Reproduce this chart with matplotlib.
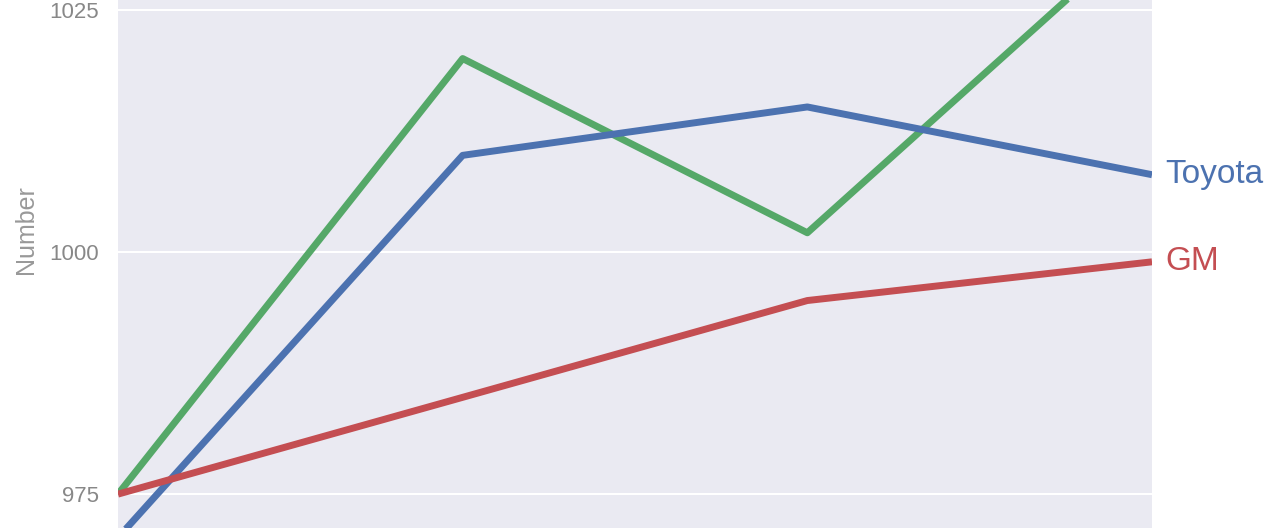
import matplotlib
matplotlib.use("Agg")
import matplotlib.pyplot as plt
import seaborn as sns

sns.set_style("darkgrid")
plt.rcParams['font.family'] = ['Liberation Sans', 'DejaVu Sans']

years = [0, 1, 2, 3]
toyota = [970.5, 1010, 1015, 1008]
gm = [975, 985, 995, 999]
other = [975, 1020, 1002, 1034]
yticks = [975, 1000, 1025]

c_blue = "#4C72B0"
c_red = "#C44E52"
c_green = "#55A868"

fig = plt.figure(figsize=(12.8, 5.28), dpi=100)
ax = fig.add_axes([118/1280, 0, 1034/1280, 1])
ax.set_facecolor("#EAEAF2")
ax.plot(years, other, color=c_green, lw=5, solid_capstyle='butt')
ax.plot(years, toyota, color=c_blue, lw=5, solid_capstyle='butt')
ax.plot(years, gm, color=c_red, lw=5, solid_capstyle='butt')
ax.set_xlim(0, 3)
ax.set_ylim(971.5, 1026.05)
ax.set_yticks(yticks)
ax.set_xticks([0, 1, 2, 3])
ax.tick_params(axis='y', labelsize=16, labelcolor='#888888', length=0, pad=14)
ax.tick_params(axis='x', labelbottom=False, length=0)
ax.grid(False)
ax.yaxis.grid(True, color='white', lw=1.5)
for s in ax.spines.values():
    s.set_visible(False)
ax.set_ylabel("Number", fontsize=18, color='#999999')
ax.yaxis.set_label_coords(-0.077, 0.565)

ax.text(3.038, toyota[-1], "Toyota", color=c_blue, fontsize=24, va='center', ha='left', clip_on=False)
ax.text(3.038, gm[-1], "GM", color=c_red, fontsize=24, va='center', ha='left', clip_on=False)

fig.savefig("out.png", dpi=100)
